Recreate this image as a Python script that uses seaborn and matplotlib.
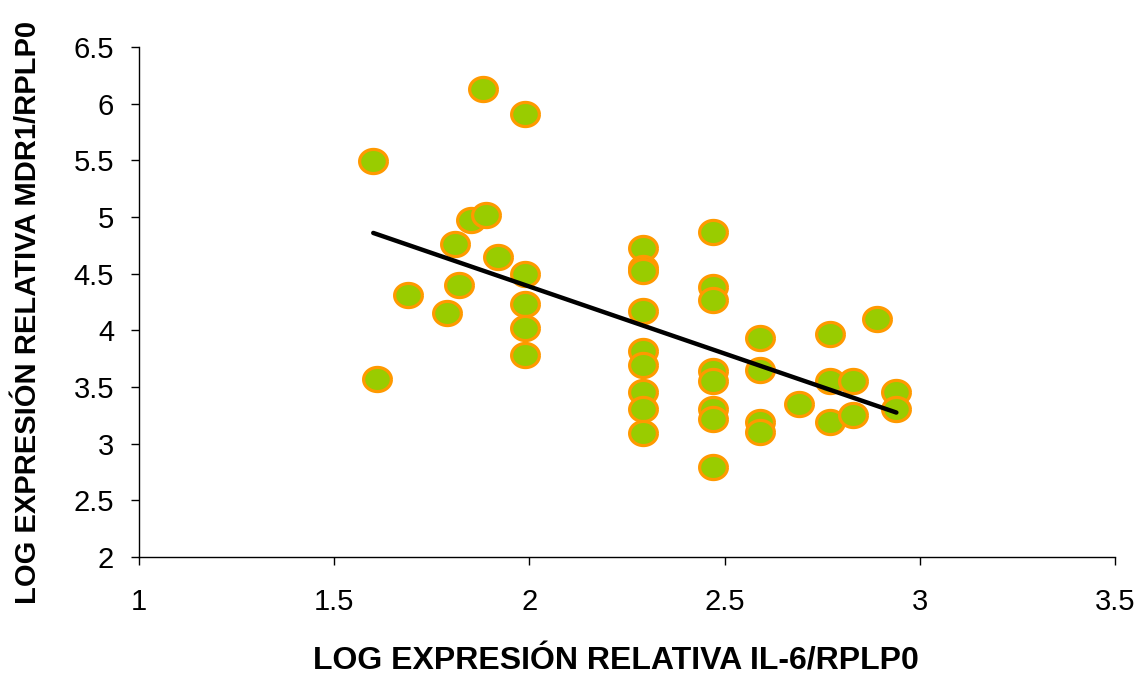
import numpy as np
import pandas as pd
import matplotlib
matplotlib.use("Agg")
import matplotlib.pyplot as plt
import seaborn as sns

# values
il6 = [1.60, 1.61, 1.69, 1.79, 1.81, 1.82, 1.85, 1.89, 1.88, 1.92,
       1.99, 1.99, 1.99, 1.99, 1.99,
       2.29, 2.29, 2.29, 2.29, 2.29, 2.29, 2.29, 2.29, 2.29,
       2.47, 2.47, 2.47, 2.47, 2.47, 2.47, 2.47, 2.47,
       2.59, 2.59, 2.59, 2.59,
       2.69,
       2.77, 2.77, 2.77,
       2.83, 2.83,
       2.89,
       2.94, 2.94]
mdr1 = [5.49, 3.57, 4.31, 4.15, 4.76, 4.40, 4.97, 5.02, 6.13, 4.65,
        5.91, 4.50, 4.23, 4.02, 3.78,
        4.73, 4.55, 4.52, 4.17, 3.82, 3.69, 3.46, 3.31, 3.09,
        4.87, 4.38, 4.27, 3.64, 3.55, 3.31, 3.22, 2.79,
        3.93, 3.65, 3.19, 3.10,
        3.35,
        3.97, 3.55, 3.19,
        3.55, 3.25,
        4.10,
        3.46, 3.31]

xticks = [1, 1.5, 2, 2.5, 3, 3.5]
yticks = [2, 2.5, 3, 3.5, 4, 4.5, 5, 5.5, 6, 6.5]

df = pd.DataFrame({"il6": il6, "mdr1": mdr1})

sns.set_style("white")
plt.rcParams["font.family"] = ["Liberation Sans", "DejaVu Sans"]

fig = plt.figure(figsize=(11.45, 6.75), dpi=100)
ax = fig.add_axes([0.1214, 0.1748, 0.8524, 0.7556])

# slightly wide ellipse marker like the original
t = np.linspace(0, 2 * np.pi, 60)
ellipse = list(zip(1.15 * np.cos(t), np.sin(t)))

sns.regplot(data=df, x="il6", y="mdr1", ax=ax, ci=None, truncate=True,
            marker=ellipse,
            scatter_kws=dict(s=400, color="#99CC00", edgecolors="#FF9900",
                             linewidths=2.3, alpha=1, zorder=2),
            line_kws=dict(color="black", lw=3.2, zorder=3))

ax.set_xlim(1, 3.5)
ax.set_ylim(2, 6.5)
ax.set_xticks(xticks)
ax.set_xticklabels([f"{v:g}" for v in xticks])
ax.set_yticks(yticks)
ax.set_yticklabels([f"{v:g}" for v in yticks])
ax.tick_params(axis="both", direction="out", length=6, width=1, color="black",
               labelsize=21, left=True, bottom=True, labelcolor="black")
ax.tick_params(axis="x", pad=16)
ax.tick_params(axis="y", pad=12)

for side in ["top", "right"]:
    ax.spines[side].set_visible(False)
for side in ["left", "bottom"]:
    ax.spines[side].set_color("black")
    ax.spines[side].set_linewidth(1)

ax.set_xlabel("LOG EXPRESIÓN RELATIVA IL-6/RPLP0", fontsize=23,
              fontweight="bold", color="black")
ax.set_ylabel("LOG EXPRESIÓN RELATIVA MDR1/RPLP0", fontsize=21,
              fontweight="bold", color="black")
ax.xaxis.set_label_coords(0.489, -0.176)
ax.yaxis.set_label_coords(-0.099, 0.48)

fig.savefig("out.png", dpi=100)
